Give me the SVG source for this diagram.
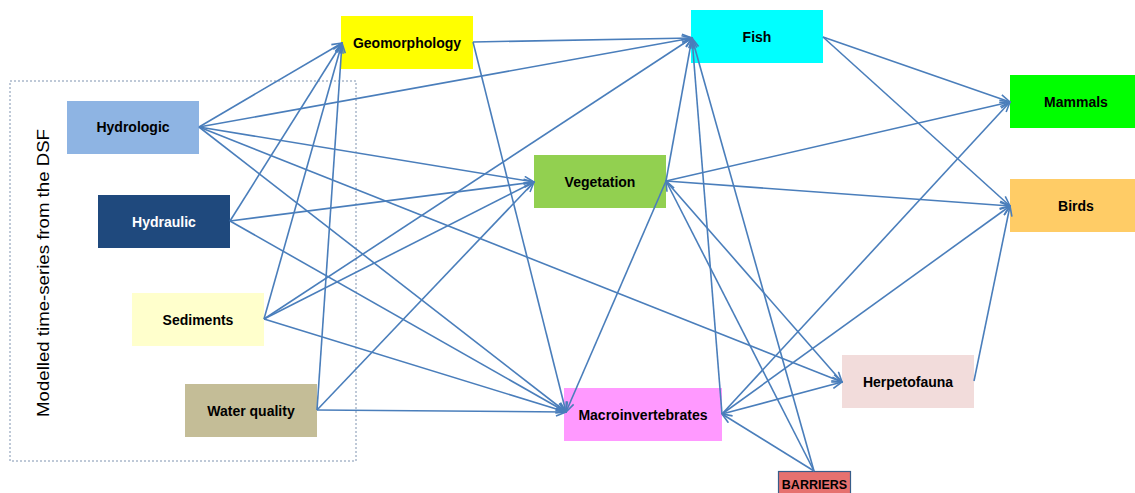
<svg xmlns="http://www.w3.org/2000/svg" width="1135" height="493" viewBox="0 0 1135 493">
<style>
.lbl{font-family:"Liberation Sans",Arial,sans-serif;font-weight:bold;font-size:14px;fill:#000;text-anchor:middle}
.bar{font-family:"Liberation Sans",Arial,sans-serif;font-weight:bold;font-size:12.5px;fill:#000;text-anchor:middle}
.side{font-family:"Liberation Sans",Arial,sans-serif;font-size:17px;fill:#000;text-anchor:middle}
.edge line{stroke:#4A7EBB;stroke-width:1.6;fill:none;marker-end:url(#arr)}
</style>
<defs>
<marker id="arr" viewBox="0 0 12 10" refX="11" refY="5" markerWidth="12" markerHeight="10" orient="auto" markerUnits="userSpaceOnUse">
<path d="M1,1 L11,5 L1,9" fill="none" stroke="#4A7EBB" stroke-width="1.6"/>
</marker>
</defs>
<rect width="1135" height="493" fill="#fff"/>
<g id="dsf-box">
<rect x="10" y="81" width="346" height="380" fill="none" stroke="#7F93B0" stroke-width="1" stroke-dasharray="2,2"/>
<text class="side" transform="translate(49,273) rotate(-90)" textLength="288" lengthAdjust="spacingAndGlyphs">Modelled time-series from the DSF</text>
</g>
<g id="geomorphology"><rect x="341" y="16" width="132" height="53" fill="#FFFF00"/><text class="lbl" x="407" y="48">Geomorphology</text></g>
<g id="hydrologic"><rect x="67" y="101" width="132" height="53" fill="#8EB4E3"/><text class="lbl" x="133" y="132">Hydrologic</text></g>
<g id="hydraulic"><rect x="98" y="195" width="132" height="53" fill="#1F497D"/><text class="lbl" x="164" y="227" style="fill:#fff">Hydraulic</text></g>
<g id="sediments"><rect x="132" y="293" width="132" height="53" fill="#FFFFCC"/><text class="lbl" x="198" y="325">Sediments</text></g>
<g id="water-quality"><rect x="185" y="384" width="132" height="53" fill="#C4BD97"/><text class="lbl" x="251" y="416">Water quality</text></g>
<g id="fish"><rect x="691" y="10" width="132" height="53" fill="#00FFFF"/><text class="lbl" x="757" y="42">Fish</text></g>
<g id="vegetation"><rect x="534" y="155" width="132" height="53" fill="#92D050"/><text class="lbl" x="600" y="187">Vegetation</text></g>
<g id="macroinvertebrates"><rect x="564" y="388" width="158" height="53" fill="#FF99FF"/><text class="lbl" x="643" y="420">Macroinvertebrates</text></g>
<g id="mammals"><rect x="1010" y="75" width="132" height="53" fill="#00FF00"/><text class="lbl" x="1076" y="107">Mammals</text></g>
<g id="birds"><rect x="1010" y="179" width="132" height="53" fill="#FFCC66"/><text class="lbl" x="1076" y="211">Birds</text></g>
<g id="herpetofauna"><rect x="842" y="355" width="132" height="53" fill="#F2DCDB"/><text class="lbl" x="908" y="387">Herpetofauna</text></g>
<g id="barriers"><rect x="778.5" y="471.5" width="72" height="30" fill="#E6716F" stroke="#385D8A" stroke-width="1.2"/><text class="bar" x="814.5" y="489">BARRIERS</text></g>
<g id="connectors" class="edge">
<line x1="199" y1="127" x2="342" y2="43"/>
<line x1="230" y1="221" x2="342" y2="43"/>
<line x1="264" y1="319" x2="342" y2="43"/>
<line x1="317" y1="410" x2="342" y2="43"/>
<line x1="473" y1="42" x2="692" y2="38"/>
<line x1="199" y1="127" x2="692" y2="38"/>
<line x1="264" y1="319" x2="692" y2="38"/>
<line x1="666" y1="181" x2="692" y2="38"/>
<line x1="722" y1="414" x2="692" y2="38"/>
<line x1="814" y1="471" x2="692" y2="38"/>
<line x1="199" y1="127" x2="534" y2="182"/>
<line x1="230" y1="221" x2="534" y2="182"/>
<line x1="264" y1="319" x2="534" y2="182"/>
<line x1="317" y1="410" x2="534" y2="182"/>
<line x1="473" y1="42" x2="566" y2="412"/>
<line x1="199" y1="127" x2="566" y2="412"/>
<line x1="230" y1="221" x2="566" y2="412"/>
<line x1="264" y1="319" x2="566" y2="412"/>
<line x1="317" y1="410" x2="566" y2="412"/>
<line x1="666" y1="181" x2="566" y2="412"/>
<line x1="199" y1="127" x2="842" y2="382"/>
<line x1="666" y1="181" x2="842" y2="382"/>
<line x1="722" y1="414" x2="842" y2="382"/>
<line x1="814" y1="471" x2="666" y2="181"/>
<line x1="814" y1="471" x2="722" y2="414"/>
<line x1="823" y1="37" x2="1010" y2="102"/>
<line x1="823" y1="37" x2="1010" y2="206"/>
<line x1="666" y1="181" x2="1010" y2="102"/>
<line x1="666" y1="181" x2="1010" y2="206"/>
<line x1="722" y1="414" x2="1010" y2="102"/>
<line x1="722" y1="414" x2="1010" y2="206"/>
<line x1="974" y1="381" x2="1010" y2="206"/>
</g>
</svg>
